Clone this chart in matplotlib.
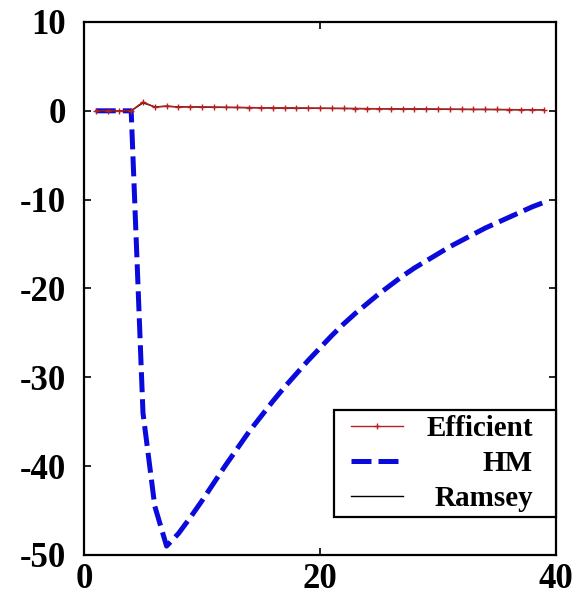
import matplotlib
matplotlib.use("Agg")
import matplotlib.pyplot as plt
from matplotlib.lines import Line2D
from matplotlib.legend_handler import HandlerLine2D

plt.rcParams['font.family'] = ['Liberation Serif', 'DejaVu Serif']
plt.rcParams['font.weight'] = 'bold'
plt.rcParams['axes.unicode_minus'] = False

periods = list(range(1, 40))

efficient = [0, 0, 0, 0, 1.0, 0.40, 0.55, 0.42, 0.48, 0.42,
             0.42, 0.40, 0.38, 0.37, 0.35, 0.34, 0.33, 0.31, 0.30, 0.29,
             0.28, 0.27, 0.26, 0.25, 0.24, 0.23, 0.22, 0.21, 0.20, 0.19,
             0.18, 0.17, 0.16, 0.16, 0.15, 0.14, 0.13, 0.13, 0.12]

hm = [0, 0, 0, 0, -34.0, -44.5, -49.0, -47.6, -45.8, -43.9,
      -41.9, -39.9, -38.0, -36.1, -34.4, -32.7, -31.1, -29.6, -28.1, -26.7,
      -25.3, -24.0, -22.8, -21.7, -20.6, -19.6, -18.6, -17.7, -16.9, -16.1,
      -15.3, -14.6, -13.9, -13.2, -12.6, -12.0, -11.4, -10.8, -10.3]

ramsey = [0, 0, 0, 0, 0.90, 0.45, 0.50, 0.45, 0.45, 0.42,
          0.40, 0.38, 0.37, 0.35, 0.34, 0.32, 0.31, 0.30, 0.29, 0.28,
          0.27, 0.26, 0.25, 0.24, 0.23, 0.22, 0.21, 0.20, 0.19, 0.18,
          0.17, 0.16, 0.15, 0.15, 0.14, 0.13, 0.12, 0.12, 0.11]

labels = ["Efficient", "HM", "Ramsey"]
xticks = [0, 20, 40]
yticks = [10, 0, -10, -20, -30, -40, -50]

fig = plt.figure(figsize=(5.74, 5.99), dpi=100)
ax = fig.add_axes([0.1463, 0.0735, 0.8223, 0.8898])

ax.plot(periods, efficient, color='#b82020', lw=1.0, marker='+',
        markersize=5, markeredgewidth=1.0, label=labels[0], zorder=3)
ax.plot(periods, hm, color='#0a0adc', lw=3.6, linestyle=(0, (4.0, 1.4)),
        label=labels[1], zorder=2)
ax.plot(periods, ramsey, color='black', lw=1.0, label=labels[2], zorder=2.5)

ax.set_xlim(0, 40)
ax.set_ylim(-50, 10)
ax.set_xticks(xticks)
ax.set_yticks(yticks)
ax.tick_params(direction='in', length=5, width=1.2, top=True, right=True,
               labelsize=25)
ax.tick_params(axis='y', pad=13)
ax.tick_params(axis='x', pad=6)
for lab in ax.get_xticklabels() + ax.get_yticklabels():
    lab.set_fontweight('bold')
for sp in ax.spines.values():
    sp.set_linewidth(1.6)
    sp.set_color('black')

leg_size = 21
leg = ax.legend(loc='lower right', bbox_to_anchor=(1.0, 0.071),
                borderaxespad=0, fancybox=False, framealpha=1,
                edgecolor='black', handlelength=2.19,
                handletextpad=1.44, labelspacing=0.27, borderpad=0.17,
                handler_map={Line2D: HandlerLine2D(xpad=0.41)},
                prop={'weight': 'bold', 'size': leg_size})
leg.get_frame().set_linewidth(1.6)

# right-align the legend entries, leaving a margin before the frame
fig.canvas.draw()
renderer = fig.canvas.get_renderer()
widths = [t.get_window_extent(renderer).width for t in leg.get_texts()]
widest = max(widths)
right_margin = 18
for t, w in zip(leg.get_texts(), widths):
    t.set_position((widest - w - right_margin, 0))

fig.savefig('out.png', dpi=100)
